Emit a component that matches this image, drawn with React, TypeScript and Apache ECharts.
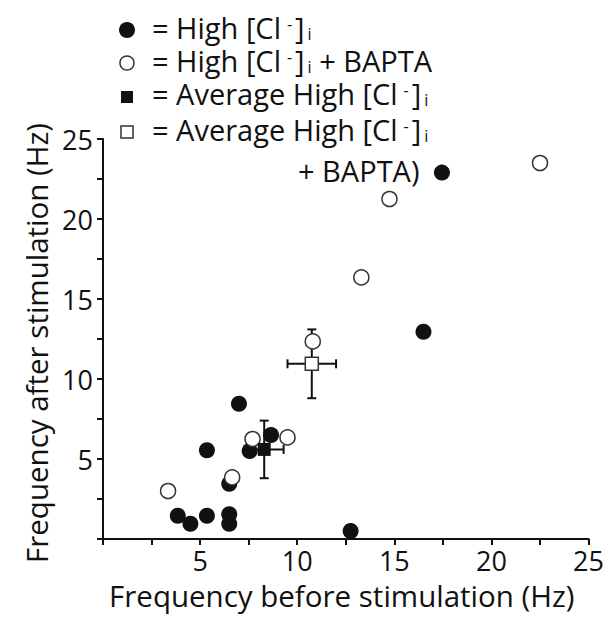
import React, { useEffect, useRef } from "react";
import * as echarts from "echarts";

const highCl: number[][] = [
  [17.45, 22.9], [16.5, 12.95], [7.0, 8.45], [5.35, 5.55], [7.55, 5.5],
  [8.65, 6.5], [6.5, 3.45], [3.85, 1.45], [4.5, 0.95], [5.35, 1.45],
  [6.5, 1.55], [6.5, 0.95], [12.75, 0.5],
];
const highClBapta: number[][] = [
  [22.5, 23.5], [14.75, 21.25], [13.3, 16.35], [10.8, 12.35],
  [7.7, 6.25], [9.5, 6.35], [6.65, 3.85], [3.35, 3.0],
];
// [x, y, xErr, yErr]
const avgHighCl: number[][] = [[8.3, 5.6, 1.0, 1.8]];
const avgHighClBapta: number[][] = [[10.75, 10.95, 1.25, 2.15]];

const xTickLabels = ["5", "10", "15", "20", "25"];
const yTickLabels = ["5", "10", "15", "20", "25"];

const FONT = "'Open Sans', 'Noto Sans', sans-serif";
const INK = "#111";

export default function App() {
  const ref = useRef<HTMLDivElement>(null);
  useEffect(() => {
    document.body.style.margin = "0";
    if (!ref.current) return;
    const chart = echarts.init(ref.current, null, { renderer: "svg" });
    const rich = {
      n: { fontSize: 29, fontFamily: FONT, fill: INK, lineHeight: 29 },
      sup: { fontSize: 16, fontFamily: FONT, fill: INK, verticalAlign: "top", lineHeight: 16, padding: [3, 3, 0, 6] },
      sub: { fontSize: 16, fontFamily: FONT, fill: INK, verticalAlign: "bottom", lineHeight: 16, padding: [0, 0, 0, 3] },
    };
    const legendRow = (y: number, txt: string) => ({
      type: "text",
      x: 152,
      y,
      style: {
        text: txt,
        fill: INK,
        font: `29px ${FONT}`,
        verticalAlign: "middle",
        rich,
      },
    });
    chart.setOption({
      animation: false,
      grid: { left: 103, right: 17, top: 139, bottom: 80, containLabel: false },
      xAxis: {
        type: "value",
        min: 0,
        max: 25,
        interval: 2.5,
        name: "Frequency before stimulation (Hz)",
        nameLocation: "middle",
        nameGap: 41,
        nameTextStyle: { fontSize: 29.5, fontFamily: FONT, color: INK, padding: [0, 8, 0, 0] },
        splitLine: { show: false },
        axisLine: { lineStyle: { color: INK, width: 2 } },
        axisTick: { inside: false, length: 6, lineStyle: { color: INK, width: 2 } },
        axisLabel: {
          fontSize: 27,
          fontFamily: FONT,
          color: INK,
          margin: 8,
          formatter: (v: number) => (xTickLabels.includes(String(v)) ? String(v) : ""),
        },
      },
      yAxis: {
        type: "value",
        min: 0,
        max: 25,
        interval: 2.5,
        name: "Frequency after stimulation (Hz)",
        nameLocation: "middle",
        nameGap: 45,
        nameTextStyle: { fontSize: 29.5, fontFamily: FONT, color: INK, padding: [0, 8, 0, 0] },
        splitLine: { show: false },
        axisLine: { lineStyle: { color: INK, width: 2 } },
        axisTick: { inside: false, length: 6, lineStyle: { color: INK, width: 2 } },
        axisLabel: {
          fontSize: 27,
          fontFamily: FONT,
          color: INK,
          margin: 10,
          formatter: (v: number) => (yTickLabels.includes(String(v)) ? String(v) : ""),
        },
      },
      graphic: [
        { type: "circle", shape: { cx: 127, cy: 30, r: 8 }, style: { fill: INK } },
        { type: "circle", shape: { cx: 127, cy: 63, r: 7 }, style: { fill: "#fff", stroke: "#333", lineWidth: 1.5 } },
        { type: "rect", shape: { x: 121, y: 91, width: 12, height: 12 }, style: { fill: INK } },
        { type: "rect", shape: { x: 121, y: 126, width: 12, height: 12 }, style: { fill: "#fff", stroke: "#333", lineWidth: 1.5 } },
        legendRow(27, "{n|= High [Cl}{sup|-}{n|]}{sub|i}"),
        legendRow(60, "{n|= High [Cl}{sup|-}{n|]}{sub|i}{n| + BAPTA}"),
        legendRow(93, "{n|= Average High [Cl}{sup|-}{n|]}{sub|i}"),
        legendRow(129, "{n|= Average High [Cl}{sup|-}{n|]}{sub|i}"),
        {
          type: "text",
          x: 298,
          y: 170,
          style: { text: "+ BAPTA)", fill: INK, font: `29px ${FONT}`, verticalAlign: "middle" },
        },
      ],
      series: [
        {
          name: "High [Cl-]i",
          type: "scatter",
          data: highCl,
          symbol: "circle",
          symbolSize: 16,
          itemStyle: { color: INK, opacity: 1 },
        },
        {
          name: "High [Cl-]i + BAPTA",
          type: "scatter",
          data: highClBapta,
          symbol: "circle",
          symbolSize: 15,
          itemStyle: { color: "#fff", borderColor: "#333", borderWidth: 1.5, opacity: 1 },
        },
        {
          name: "errors",
          type: "custom",
          data: [...avgHighCl, ...avgHighClBapta],
          renderItem: (params: any, api: any) => {
            const x = api.value(0), y = api.value(1), ex = api.value(2), ey = api.value(3);
            const l = api.coord([x - ex, y]);
            const r = api.coord([x + ex, y]);
            const t = api.coord([x, y + ey]);
            const b = api.coord([x, y - ey]);
            const cap = 4.5;
            const st = { stroke: INK, lineWidth: 2 };
            return {
              type: "group",
              children: [
                { type: "line", shape: { x1: l[0], y1: l[1], x2: r[0], y2: r[1] }, style: st },
                { type: "line", shape: { x1: t[0], y1: t[1], x2: b[0], y2: b[1] }, style: st },
                { type: "line", shape: { x1: l[0], y1: l[1] - cap, x2: l[0], y2: l[1] + cap }, style: st },
                { type: "line", shape: { x1: r[0], y1: r[1] - cap, x2: r[0], y2: r[1] + cap }, style: st },
                { type: "line", shape: { x1: t[0] - cap, y1: t[1], x2: t[0] + cap, y2: t[1] }, style: st },
                { type: "line", shape: { x1: b[0] - cap, y1: b[1], x2: b[0] + cap, y2: b[1] }, style: st },
              ],
            };
          },
        },
        {
          name: "Average High [Cl-]i",
          type: "scatter",
          data: avgHighCl.map((d) => [d[0], d[1]]),
          symbol: "rect",
          symbolSize: 13,
          itemStyle: { color: INK, opacity: 1 },
        },
        {
          name: "Average High [Cl-]i + BAPTA",
          type: "scatter",
          data: avgHighClBapta.map((d) => [d[0], d[1]]),
          symbol: "rect",
          symbolSize: 13,
          itemStyle: { color: "#fff", borderColor: "#333", borderWidth: 1.5, opacity: 1 },
        },
      ],
    });
    return () => chart.dispose();
  }, []);
  return <div ref={ref} style={{ width: 607, height: 619 }} />;
}
